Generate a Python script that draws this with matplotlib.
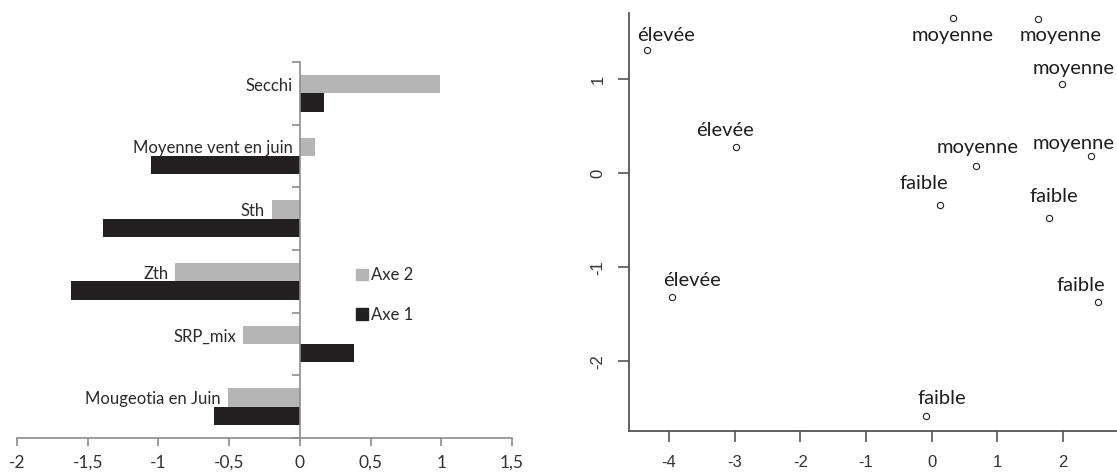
import numpy as np
import matplotlib.pyplot as plt
from matplotlib.patches import Patch

plt.rcParams['axes.unicode_minus'] = False

# left panel: variable loadings on the two axes
variables = ['Secchi', 'Moyenne vent en juin', 'Sth', 'Zth', 'SRP_mix', 'Mougeotia en Juin']
axe2 = [0.99, 0.11, -0.20, -0.88, -0.40, -0.51]
axe1 = [0.17, -1.05, -1.39, -1.62, 0.38, -0.61]
bar_ticks = [-2, -1.5, -1, -0.5, 0, 0.5, 1, 1.5]
bar_ticklabels = ['-2', '-1,5', '-1', '-0,5', '0', '0,5', '1', '1,5']

# right panel: site scores with their class
site_x = [-4.34, -2.98, 0.32, 1.61, 1.99, 0.67, 2.43, 0.12, 1.78, 2.53, -0.09, -3.96]
site_y = [1.31, 0.28, 1.65, 1.64, 0.95, 0.08, 0.18, -0.34, -0.47, -1.37, -2.58, -1.31]
site_lab = ['élevée', 'élevée', 'moyenne', 'moyenne', 'moyenne', 'moyenne', 'moyenne',
            'faible', 'faible', 'faible', 'faible', 'élevée']
lab_x = [-4.05, -3.15, 0.32, 1.96, 2.16, 0.70, 2.16, -0.12, 1.86, 2.27, 0.15, -3.65]
lab_y = [1.47, 0.46, 1.47, 1.47, 1.12, 0.27, 0.32, -0.11, -0.25, -1.19, -2.39, -1.14]

fig = plt.figure(figsize=(11.17, 4.74), dpi=100)

# ---- bar chart
ax = fig.add_axes([17/1117, 36/474, 495/1117, 376/474])
pos = np.arange(len(variables))
h = 0.29
grey = '#b5b5b5'
dark = '#231f20'
ax.barh(pos - h/2, axe2, height=h, color=grey, label='Axe 2', zorder=2)
ax.barh(pos + h/2, axe1, height=h, color=dark, label='Axe 1', zorder=2)
ax.set_xlim(-2, 1.5)
ax.set_ylim(len(variables) - 0.5, -0.5)
ax.spines['top'].set_visible(False)
ax.spines['right'].set_visible(False)
ax.spines['left'].set_position(('data', 0))
for s in ['left', 'bottom']:
    ax.spines[s].set_color('#8c8c8c')
    ax.spines[s].set_linewidth(1.2)
ax.set_yticks(np.arange(len(variables) + 1) - 0.5)
ax.set_yticklabels([])
ax.set_xticks(bar_ticks)
ax.set_xticklabels(bar_ticklabels, family='Lato', fontsize=12.5, color='#333333')
ax.tick_params(axis='both', direction='out', length=6, color='#8c8c8c', width=1.2)
ax.tick_params(axis='x', pad=6)
for i, name in enumerate(variables):
    xl = min(0, axe2[i]) - 0.05
    ax.text(xl, pos[i] - 0.12, name, ha='right', va='center', family='Lato',
            fontsize=12, color='#2a2a2a', zorder=3)
handles = [Patch(color=grey, label='Axe 2'), Patch(color=dark, label='Axe 1')]
leg = ax.legend(handles=handles, loc='center left', bbox_to_anchor=(0.655, 0.38),
                frameon=False, handlelength=0.7, handleheight=0.7, handletextpad=0.2,
                labelspacing=1.4, prop={'family': 'Lato', 'size': 12})
for t in leg.get_texts():
    t.set_color('#2a2a2a')

# ---- scatter
ax2 = fig.add_axes([629/1117, 43/474, 488/1117, 418/474])
ax2.plot(site_x, site_y, 'o', ms=4.5, mfc='white', mec='#222222', mew=0.8, clip_on=False)
for xl, yl, s in zip(lab_x, lab_y, site_lab):
    ax2.text(xl, yl, s, ha='center', va='center', family='Lato', fontsize=14.5,
             color='#1e1e1e', clip_on=False)
ax2.set_xlim(-4.61, 2.82)
ax2.set_ylim(-2.74, 1.705)
ax2.spines['top'].set_visible(False)
ax2.spines['right'].set_visible(False)
for s in ['left', 'bottom']:
    ax2.spines[s].set_color('#555555')
    ax2.spines[s].set_linewidth(1.3)
ax2.set_xticks([-4, -3, -2, -1, 0, 1, 2])
ax2.set_yticks([-2, -1, 0, 1])
ax2.tick_params(axis='both', direction='out', length=8, color='#555555', width=1.2,
                labelsize=12, labelcolor='#333333')
ax2.tick_params(axis='x', pad=9)
ax2.tick_params(axis='y', pad=9)
for t in ax2.get_yticklabels():
    t.set_rotation(90)
    t.set_va('center')
for t in ax2.get_xticklabels() + ax2.get_yticklabels():
    t.set_family('Liberation Sans')

fig.savefig('out.png', dpi=100)
